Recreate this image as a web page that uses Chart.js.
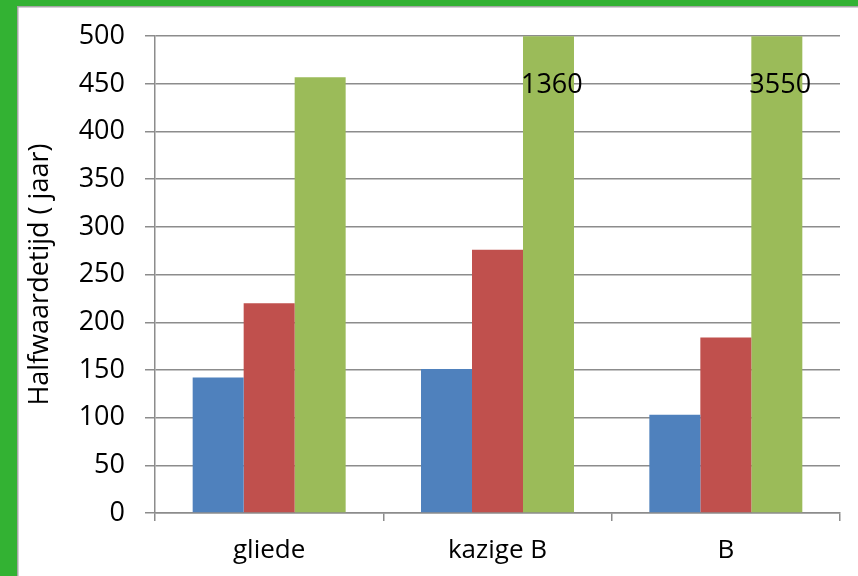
<!DOCTYPE html>
<html>
<head>
<meta charset="utf-8">
<script src="https://cdn.jsdelivr.net/npm/chart.js@4"></script>
<style>
html,body{margin:0;padding:0;background:#fff;}
#wrap{position:absolute;left:0;top:0;width:858px;height:576px;}
</style>
</head>
<body>
<div id="wrap"><canvas id="c" width="858" height="576"></canvas></div>
<script>
const categories = ["gliede", "kazige B", "B"];
const seriesBlue = [142, 151, 103];
const seriesRed = [220, 276, 184];
const seriesGreen = [457, 1360, 3550];
const yTicks = [0, 50, 100, 150, 200, 250, 300, 350, 400, 450, 500];
const yTitle = "Halfwaardetijd ( jaar)";

const FONT = "'Open Sans', 'Noto Sans', sans-serif";

const frame = {
  id: 'frame',
  beforeDraw(chart) {
    const ctx = chart.ctx;
    ctx.save();
    ctx.fillStyle = '#fff';
    ctx.fillRect(0, 0, chart.width, chart.height);
    ctx.fillStyle = '#33b233';
    ctx.fillRect(0, 0, chart.width, 6);
    ctx.fillRect(0, 0, 17, chart.height);
    ctx.fillStyle = '#a6a6a6';
    ctx.fillRect(17, 6, chart.width - 17, 1.5);
    ctx.fillRect(17, 6, 1.5, chart.height - 6);
    ctx.restore();
  }
};

const overLabels = {
  id: 'overLabels',
  afterDatasetsDraw(chart) {
    const ctx = chart.ctx;
    const ys = chart.scales.y;
    const meta = chart.getDatasetMeta(2);
    ctx.save();
    ctx.font = "27px " + FONT;
    ctx.fillStyle = '#000';
    ctx.textAlign = 'left';
    ctx.textBaseline = 'middle';
    seriesGreen.forEach((v, i) => {
      if (v > ys.max) {
        const bar = meta.data[i];
        ctx.fillText(String(v), bar.x - bar.width / 2 - 2, ys.getPixelForValue(450) + 1);
      }
    });
    ctx.restore();
  }
};

new Chart(document.getElementById('c'), {
  type: 'bar',
  data: {
    labels: categories,
    datasets: [
      { data: seriesBlue, backgroundColor: '#4f81bd' },
      { data: seriesRed, backgroundColor: '#c0504d' },
      { data: seriesGreen, backgroundColor: '#9bbb59' }
    ]
  },
  options: {
    responsive: false,
    animation: false,
    devicePixelRatio: 1,
    layout: { padding: { top: 35, right: 18, bottom: 0, left: 0 } },
    plugins: { legend: { display: false }, tooltip: { enabled: false } },
    datasets: { bar: { categoryPercentage: 0.67, barPercentage: 1.0 } },
    scales: {
      x: {
        afterFit(s) { s.height = 63; },
        grid: { display: true, drawOnChartArea: false, drawTicks: true, tickLength: 8, offset: true, color: '#8c8c8c', lineWidth: 1.5 },
        border: { display: true, color: '#8c8c8c', width: 1.5 },
        ticks: { color: '#000', font: { family: FONT, size: 26 }, padding: 14 }
      },
      y: {
        min: 0, max: 500,
        afterFit(s) { s.width = 155; },
        afterBuildTicks(s) { s.ticks = yTicks.map(v => ({ value: v })); },
        grid: { color: '#8c8c8c', lineWidth: 1.5, tickLength: 10 },
        border: { display: true, color: '#8c8c8c', width: 1.5 },
        ticks: { color: '#000', font: { family: FONT, size: 27 }, padding: 20 },
        title: { display: true, text: yTitle, color: '#000', font: { family: FONT, size: 27 }, padding: { top: 24, bottom: 0 } }
      }
    }
  },
  plugins: [frame, overLabels]
});
</script>
</body>
</html>
